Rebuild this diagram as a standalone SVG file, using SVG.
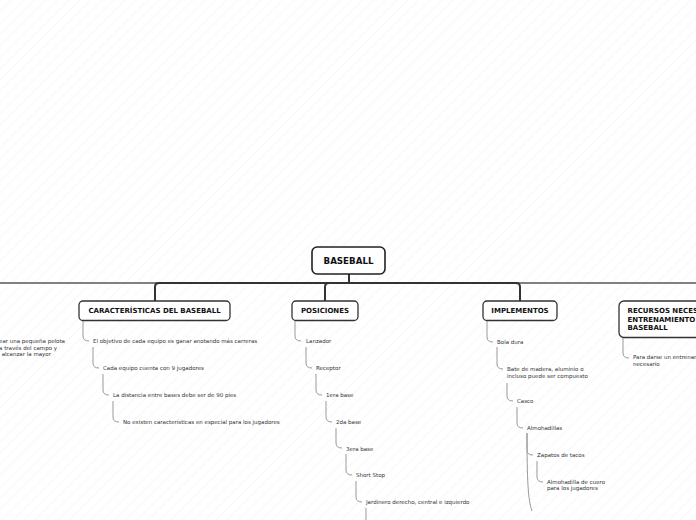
<svg xmlns="http://www.w3.org/2000/svg" width="696" height="520" viewBox="0 0 696 520">
<defs>
<pattern id="hatch" width="8" height="8" patternUnits="userSpaceOnUse" patternTransform="rotate(45)">
<line x1="0" y1="0" x2="0" y2="8" stroke="#f1f1f1" stroke-width="1"/>
</pattern>
</defs>
<style>
.node{fill:#fff;stroke:#333;stroke-width:1.3}
.main{fill:#fff;stroke:#222;stroke-width:1.6}
.nt{font-family:"DejaVu Sans",Verdana,sans-serif;font-weight:bold;font-size:7px;fill:#111}
.mt{font-family:"DejaVu Sans",Verdana,sans-serif;font-weight:bold;font-size:8.7px;fill:#111}
.ct{font-family:"DejaVu Sans",Verdana,sans-serif;font-size:5.5px;fill:#333}
.bar{fill:none;stroke:#333;stroke-width:2}
.barg{fill:none;stroke:#808080;stroke-width:2}
.c{fill:none;stroke:#999;stroke-width:1}
</style>
<rect width="696" height="520" fill="#fff"/>
<rect width="696" height="520" fill="url(#hatch)"/>
<g id="connectors">
<path class="barg" d="M0,283 H160"/>
<path class="barg" d="M515,283 H696"/>
<path class="bar" d="M155,301 V287 Q155,283 159,283 H516 Q520,283 520,287 V301"/>
<path class="bar" d="M349,274 V283"/>
<path class="bar" d="M325,301 V287 Q325,283 329,283"/>
<path class="c" d="M83,321 V336 Q83,341 89,341"/>
<path class="c" d="M93,347 V363 Q93,368 99,368"/>
<path class="c" d="M103,374 V390 Q103,395 109,395"/>
<path class="c" d="M113,401 V417 Q113,422 119,422"/>
<path class="c" d="M295,320 V336 Q295,341 301,341"/>
<path class="c" d="M306,347 V363 Q306,368 312,368"/>
<path class="c" d="M316,374 V390 Q316,395 322,395"/>
<path class="c" d="M326,401 V417 Q326,422 332,422"/>
<path class="c" d="M336,428 V443 Q336,448 342,448"/>
<path class="c" d="M346,454 V470 Q346,475 352,475"/>
<path class="c" d="M356,481 V497 Q356,502 362,502"/>
<path class="c" d="M366,508 V520"/>
<path class="c" d="M487,320 V337 Q487,342 493,342"/>
<path class="c" d="M497,347 V364 Q497,369 503,369"/>
<path class="c" d="M507,383 V396 Q507,401 513,401"/>
<path class="c" d="M517,407 V423 Q517,428 523,428"/>
<path class="c" d="M527,433 V450 Q527,455 533,455"/>
<path class="c" d="M537,461 V477 Q537,482 543,482"/>
<path class="c" d="M527,433 C527,480 528,500 532,511"/>
<path class="c" d="M623,338 V353 Q623,358 629,358"/>
</g>
<g id="n-baseball">
<rect class="main" x="312" y="247" width="73" height="27" rx="5"/>
<text class="mt" x="348.5" y="264" text-anchor="middle">BASEBALL</text>
</g>
<g id="n-left">
<text class="ct" text-anchor="end" x="65" y="342.5">ear una pequeña pelota</text>
<text class="ct" text-anchor="end" x="57" y="349.5">a través del campo y</text>
<text class="ct" text-anchor="end" x="51" y="356">alcanzar la mayor</text>
</g>
<g id="n-caracteristicas">
<rect class="node" x="79" y="301" width="151" height="19.5" rx="4"/>
<text class="nt" x="154.5" y="313.3" text-anchor="middle">CARACTERÍSTICAS DEL BASEBALL</text>
</g>
<g id="n-car-children">
<text class="ct" x="93" y="343">El objetivo de cada equipo es ganar anotando más carreras</text>
<text class="ct" x="103" y="370">Cada equipo cuenta con 9 jugadores</text>
<text class="ct" x="113" y="397">La distancia entre bases debe ser de 90 pies</text>
<text class="ct" x="123" y="424">No existen características en especial para los jugadores</text>
</g>
<g id="n-posiciones">
<rect class="node" x="292" y="301" width="66" height="19.5" rx="4"/>
<text class="nt" x="325" y="313.3" text-anchor="middle">POSICIONES</text>
</g>
<g id="n-pos-children">
<text class="ct" x="306" y="343">Lanzador</text>
<text class="ct" x="316" y="370">Receptor</text>
<text class="ct" x="326" y="397">1era base</text>
<text class="ct" x="336" y="424">2da base</text>
<text class="ct" x="346" y="450.5">3era base</text>
<text class="ct" x="356" y="477">Short Stop</text>
<text class="ct" x="366" y="504">Jardinero derecho, central e izquierdo</text>
</g>
<g id="n-implementos">
<rect class="node" x="483" y="301" width="74" height="19.5" rx="4"/>
<text class="nt" x="520" y="313.3" text-anchor="middle">IMPLEMENTOS</text>
</g>
<g id="n-imp-children">
<text class="ct" x="497" y="343.5">Bola dura</text>
<text class="ct" x="507" y="371">Bate de madera, aluminio o</text>
<text class="ct" x="507" y="377.5">incluso puede ser compuesto</text>
<text class="ct" x="517" y="402.5">Casco</text>
<text class="ct" x="527" y="429.5">Almohadillas</text>
<text class="ct" x="537" y="457">Zapatos de tacos</text>
<text class="ct" x="547" y="483.5">Almohadilla de cuero</text>
<text class="ct" x="547" y="490">para los jugadores</text>
</g>
<g id="n-recursos">
<rect class="node" x="619" y="301" width="100" height="36.5" rx="5"/>
<text class="nt" x="627.5" y="313.2">RECURSOS NECES</text>
<text class="nt" x="627.5" y="321.5">ENTRENAMIENTO</text>
<text class="nt" x="627.5" y="329.8">BASEBALL</text>
</g>
<g id="n-rec-children">
<text class="ct" x="633" y="359.3">Para darse un entrenam</text>
<text class="ct" x="633" y="366">necesario</text>
</g>
</svg>
